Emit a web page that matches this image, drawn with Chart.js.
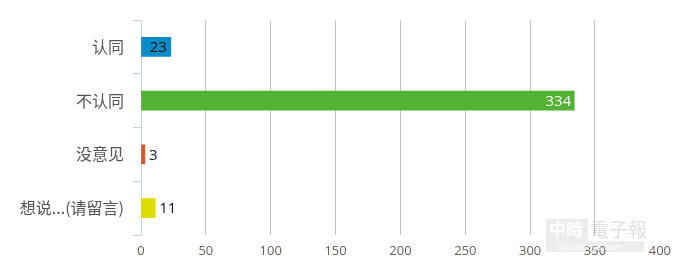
<!DOCTYPE html>
<html>
<head>
<meta charset="utf-8">
<script src="https://cdn.jsdelivr.net/npm/chart.js@4"></script>
<style>
    html, body { margin: 0; padding: 0; background: #fff; }
    #wrap { width: 679px; height: 267px; }
</style>
</head>
<body>
<div id="wrap"><canvas id="voteChart"></canvas></div>
<script>
const categories = ['认同', '不认同', '没意见', '想说...(请留言)'];
const votes = [23, 334, 3, 11];
const barColors = ['#0b8cc8', '#52b232', '#e2522a', '#dddd00'];
const xTicks = [0, 50, 100, 150, 200, 250, 300, 350, 400];

const numberFont = '"Open Sans", "DejaVu Sans", sans-serif';
const cjkFont = '"Noto Sans CJK SC", "Noto Sans", sans-serif';

// value labels: inside the bar end when it fits, otherwise just past it
const valueLabels = {
    id: 'valueLabels',
    afterDatasetsDraw(chart) {
        const ctx = chart.ctx;
        const meta = chart.getDatasetMeta(0);
        ctx.save();
        ctx.font = '15px ' + numberFont;
        ctx.textBaseline = 'middle';
        meta.data.forEach((bar, i) => {
            const text = String(votes[i]);
            const w = ctx.measureText(text).width;
            const barWidth = bar.x - bar.base;
            if (barWidth > w + 8) {
                ctx.textAlign = 'right';
                ctx.fillStyle = votes[i] > 100 ? '#ffffff' : '#111111';
                ctx.fillText(text, bar.x - (votes[i] > 100 ? 3 : 4), bar.y + 1);
            } else {
                ctx.textAlign = 'left';
                ctx.fillStyle = '#111133';
                ctx.fillText(text, bar.x + 4, bar.y + 1);
            }
        });
        ctx.restore();
    }
};

// faint newspaper watermark, bottom right
const watermark = {
    id: 'watermark',
    afterDraw(chart) {
        const ctx = chart.ctx;
        ctx.save();
        ctx.fillStyle = 'rgba(0,0,0,0.07)';
        ctx.fillRect(546, 219, 42, 22);
        ctx.fillRect(546, 241, 98, 11);
        ctx.fillStyle = 'rgba(255,255,255,0.9)';
        ctx.font = 'bold 17px ' + cjkFont;
        ctx.textBaseline = 'middle';
        ctx.fillText('中時', 549, 230);
        ctx.fillStyle = 'rgba(0,0,0,0.12)';
        ctx.font = '19px ' + cjkFont;
        ctx.fillText('電子報', 590, 230);
        ctx.fillStyle = 'rgba(255,255,255,0.95)';
        ctx.font = '9px ' + numberFont;
        ctx.fillText('chinatimes.com', 556, 247);
        ctx.restore();
    }
};

const ctxVote = document.getElementById('voteChart').getContext('2d');
const voteChart = new Chart(ctxVote, {
    type: 'bar',
    data: {
        labels: categories,
        datasets: [
            {
                data: votes,
                backgroundColor: barColors,
                borderWidth: 0,
                barThickness: 19
            }
        ]
    },
    options: {
        indexAxis: 'y',
        responsive: true,
        maintainAspectRatio: false,
        animation: false,
        layout: {
            padding: { top: 20, right: 15, bottom: 0, left: 0 }
        },
        plugins: {
            legend: { display: false },
            tooltip: { enabled: false }
        },
        scales: {
            x: {
                min: 0,
                max: 400,
                afterBuildTicks: scale => {
                    scale.ticks = xTicks.map(v => ({ value: v }));
                },
                afterFit: scale => { scale.height = 32; },
                grid: {
                    color: c => (c.tick && (c.tick.value === 0 || c.tick.value === 400)) ? 'rgba(0,0,0,0)' : '#c3c3c3',
                    lineWidth: 1,
                    drawTicks: false
                },
                border: { display: false },
                ticks: {
                    color: '#6a625a',
                    padding: 8,
                    font: { family: numberFont, size: 13 }
                }
            },
            y: {
                afterFit: scale => { scale.width = 141; },
                grid: {
                    drawOnChartArea: false,
                    drawTicks: true,
                    tickLength: 8,
                    color: '#c3d3e3',
                    offset: true
                },
                border: { display: true, color: '#c3d3e3' },
                ticks: {
                    color: '#555555',
                    padding: 9,
                    font: { family: cjkFont, size: 16 }
                }
            }
        }
    },
    plugins: [valueLabels, watermark]
});
</script>
</body>
</html>
